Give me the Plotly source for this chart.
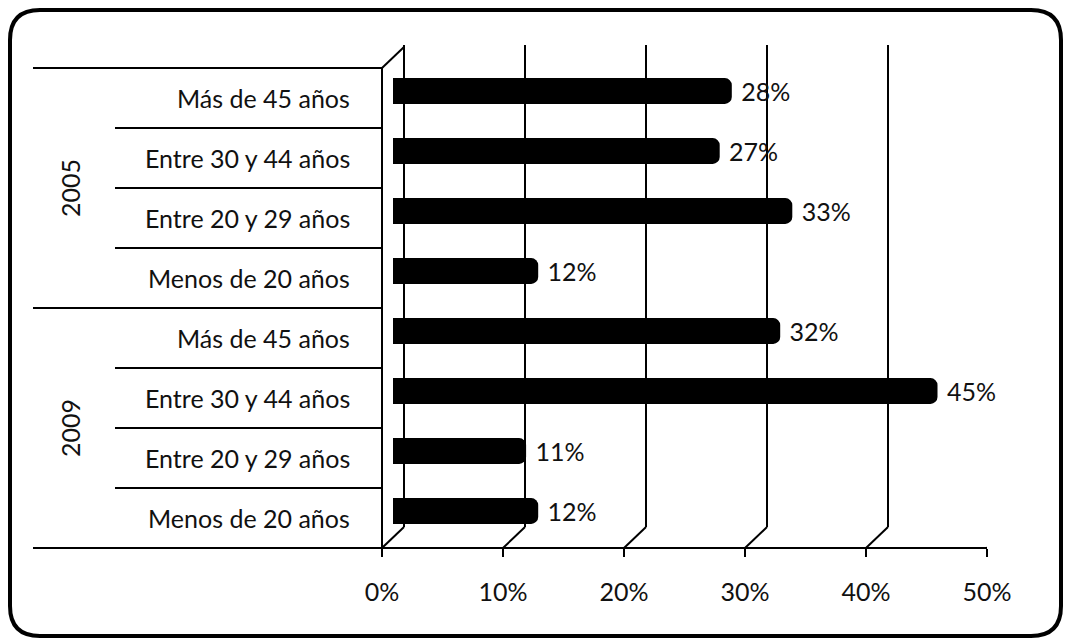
import plotly.graph_objects as go

# ---- data ----
years = ["2005", "2009"]
age_groups = ["Más de 45 años", "Entre 30 y 44 años", "Entre 20 y 29 años", "Menos de 20 años"]
values_2005 = [0.28, 0.27, 0.33, 0.12]
values_2009 = [0.32, 0.45, 0.11, 0.12]
tick_vals = [0, 0.1, 0.2, 0.3, 0.4, 0.5]
tick_text = ["0%", "10%", "20%", "30%", "40%", "50%"]

W, H = 1070, 643
def fx(p): return p / W
def fy(p): return 1 - p / H

labels = age_groups + age_groups
values = values_2005 + values_2009
ypos = list(range(len(values)))

FONT = "Lato, 'Open Sans', sans-serif"
INK = "#111111"
FS = 25

# plot geometry (pixels)
X0, X1 = 382, 987       # front axis 0% .. 50%
Y0, Y1 = 68, 548        # top .. bottom of category area
BAR_DX, BAR_DY = 11, 7  # bars sit mid-depth
BACK_DX, BACK_DY = 22, 21

fig = go.Figure()
fig.add_trace(go.Bar(
    x=values, y=ypos, orientation="h",
    xaxis="x2", yaxis="y2",
    marker=dict(color="#000000", cornerradius=7, line=dict(width=0)),
    width=0.43,
    texttemplate=" %{x:.0%}", textposition="outside",
    textfont=dict(family=FONT, size=FS, color=INK),
    cliponaxis=False, constraintext="none",
    hoverinfo="skip",
))
# invisible trace to keep the front axis alive
fig.add_trace(go.Scatter(x=[0, 0.5], y=[0, 7], mode="markers",
                         marker=dict(opacity=0), xaxis="x", yaxis="y",
                         hoverinfo="skip", showlegend=False))

yrange = [len(values) - 0.5, -0.5]
fig.update_layout(
    template="none",
    autosize=False,
    width=W, height=H,
    margin=dict(l=0, r=0, t=0, b=0, pad=0),
    paper_bgcolor="white", plot_bgcolor="rgba(0,0,0,0)",
    showlegend=False,
    font=dict(family=FONT, color=INK),
    xaxis=dict(domain=[fx(X0), fx(X1)], range=[0, 0.5], tickvals=tick_vals,
               ticktext=tick_text, ticks="outside", ticklen=8, tickwidth=2,
               tickcolor="black", showgrid=False, zeroline=False,
               showline=False, tickfont=dict(size=FS, family=FONT, color=INK),
               ticklabelstandoff=14, anchor="y", automargin=False),
    yaxis=dict(domain=[fy(Y1), fy(Y0)], range=yrange, visible=False, anchor="x",
               automargin=False),
    xaxis2=dict(domain=[fx(X0 + BAR_DX), fx(X1 + BAR_DX)], range=[0, 0.5],
                visible=False, anchor="y2", automargin=False),
    yaxis2=dict(domain=[fy(Y1 - BAR_DY), fy(Y0 - BAR_DY)], range=yrange,
                visible=False, anchor="x2", automargin=False),
)

shapes = []
line = dict(color="black", width=2)
# back-wall gridlines and floor diagonals
for v in tick_vals:
    shapes.append(dict(type="line", xref="x", yref="paper", xsizemode="pixel",
                       xanchor=v, x0=BACK_DX, x1=BACK_DX,
                       y0=fy(Y1 - BACK_DY), y1=fy(Y0 - BACK_DY - 2), line=line, layer="below"))
    shapes.append(dict(type="line", xref="x", yref="paper", xsizemode="pixel",
                       xanchor=v, x0=0, x1=BACK_DX,
                       y0=fy(Y1), y1=fy(Y1 - BACK_DY), line=line, layer="below"))
# top-left diagonal at the category axis
shapes.append(dict(type="line", xref="paper", yref="paper",
                   x0=fx(X0), x1=fx(X0 + BACK_DX), y0=fy(Y0), y1=fy(Y0 - BACK_DY), line=line))
# left vertical axis
shapes.append(dict(type="line", xref="paper", yref="paper",
                   x0=fx(X0), x1=fx(X0), y0=fy(Y0), y1=fy(Y1 + 4), line=line))
# bottom floor axis
shapes.append(dict(type="line", xref="paper", yref="paper",
                   x0=fx(33), x1=fx(X1), y0=fy(Y1), y1=fy(Y1), line=line))
# category dividers
row_h = (Y1 - Y0) / len(values)
for i in range(len(values)):
    yy = Y0 + i * row_h
    xs = 33 if i % len(age_groups) == 0 else 115
    shapes.append(dict(type="line", xref="paper", yref="paper",
                       x0=fx(xs), x1=fx(X0), y0=fy(yy), y1=fy(yy), line=line))
# rounded frame
L, T, R, B, r = 10, 10, 1061, 636, 30
path = (f"M {fx(L+r)},{fy(T)} L {fx(R-r)},{fy(T)} Q {fx(R)},{fy(T)} {fx(R)},{fy(T+r)} "
        f"L {fx(R)},{fy(B-r)} Q {fx(R)},{fy(B)} {fx(R-r)},{fy(B)} "
        f"L {fx(L+r)},{fy(B)} Q {fx(L)},{fy(B)} {fx(L)},{fy(B-r)} "
        f"L {fx(L)},{fy(T+r)} Q {fx(L)},{fy(T)} {fx(L+r)},{fy(T)} Z")
shapes.append(dict(type="path", xref="paper", yref="paper", path=path,
                   line=dict(color="black", width=4)))
fig.update_layout(shapes=shapes)

annotations = []
for i, lab in enumerate(labels):
    annotations.append(dict(x=fx(352), y=i, xref="paper", yref="y", text=lab,
                            showarrow=False, xanchor="right", yanchor="middle",
                            font=dict(family=FONT, size=FS, color=INK)))
for g, yr in enumerate(years):
    mid = g * len(age_groups) + (len(age_groups) - 1) / 2
    annotations.append(dict(x=fx(70), y=mid, xref="paper", yref="y", text=yr,
                            showarrow=False, textangle=-90, xanchor="center",
                            yanchor="middle",
                            font=dict(family=FONT, size=FS, color=INK)))
fig.update_layout(annotations=annotations)

fig.write_html("out.html", config={"responsive": False, "displayModeBar": False},
               post_script="document.body.style.margin='0';document.body.style.overflow='hidden';")
